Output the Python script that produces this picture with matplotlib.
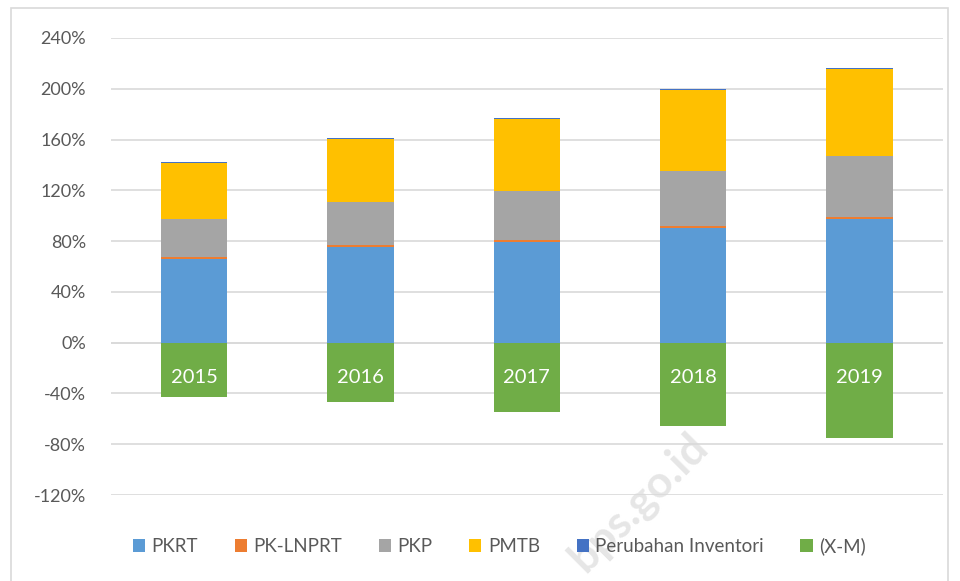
import numpy as np
import matplotlib.pyplot as plt
from matplotlib.patches import Rectangle
from matplotlib.ticker import FuncFormatter

plt.rcParams['font.family'] = ['Lato', 'DejaVu Sans']

tahun = ['2015', '2016', '2017', '2018', '2019']
pkrt = [66.0, 75.6, 79.5, 90.5, 97.6]
pk_lnprt = [1.2, 1.2, 1.3, 1.2, 1.2]
pkp = [30.4, 34.2, 38.9, 43.2, 47.9]
pmtb = [44.1, 49.6, 56.3, 64.1, 69.0]
inventori = [0.8, 0.8, 0.9, 1.0, 0.8]
x_m = [-42.5, -47.0, -55.0, -66.0, -75.0]

seri = [('PKRT', pkrt, '#5B9BD5'),
        ('PK-LNPRT', pk_lnprt, '#ED7D31'),
        ('PKP', pkp, '#A5A5A5'),
        ('PMTB', pmtb, '#FFC000'),
        ('Perubahan Inventori', inventori, '#4472C4')]

fig = plt.figure(figsize=(9.6, 5.81), dpi=100)
ax = fig.add_axes([0.1156, 0.148, 0.8664, 0.7866])
ax.patch.set_visible(False)

x = np.arange(len(tahun))
w = 0.40
bawah = np.zeros(len(tahun))
for nama, nilai, warna in seri:
    ax.bar(x, nilai, w, bottom=bawah, color=warna, label=nama, zorder=3)
    bawah += np.array(nilai)
ax.bar(x, x_m, w, color='#70AD47', label='(X-M)', zorder=3)

for i, t in enumerate(tahun):
    ax.annotate(t, (x[i], 0), xytext=(0, -25), textcoords='offset points',
                ha='center', va='center', color='white', fontsize=14.5, zorder=4)

ax.set_xlim(-0.5, len(tahun) - 0.5)
ax.set_ylim(-120, 240)
ax.set_yticks(np.arange(-120, 241, 40))
ax.yaxis.set_major_formatter(FuncFormatter(lambda v, p: '%d%%' % v))
ax.set_xticks([])
ax.grid(axis='y', color='#D9D9D9', linewidth=1.2, zorder=0)
ax.axhline(0, color='#D9D9D9', linewidth=1.2, zorder=2)
for s in ax.spines.values():
    s.set_visible(False)
ax.tick_params(axis='y', length=0, pad=18, labelsize=13, labelcolor='#595959')

ax.legend(loc='upper center', bbox_to_anchor=(0.467, -0.055), ncol=6, frameon=False,
          fontsize=13.5, handlelength=0.65, handleheight=0.65, handletextpad=0.35,
          columnspacing=1.95, labelcolor='#595959')

fig.patches.append(Rectangle((11 / 960, -0.01), 937 / 960, 1 - 8 / 581 + 0.01,
                             transform=fig.transFigure, fill=False,
                             edgecolor='#D9D9D9', linewidth=1.2))

fig.text(0.665, 0.135, 'bps.go.id', rotation=45, fontsize=32, color='#E6E6E6',
         ha='center', va='center', fontweight='bold', zorder=-1)

fig.savefig('out.png', dpi=100)
